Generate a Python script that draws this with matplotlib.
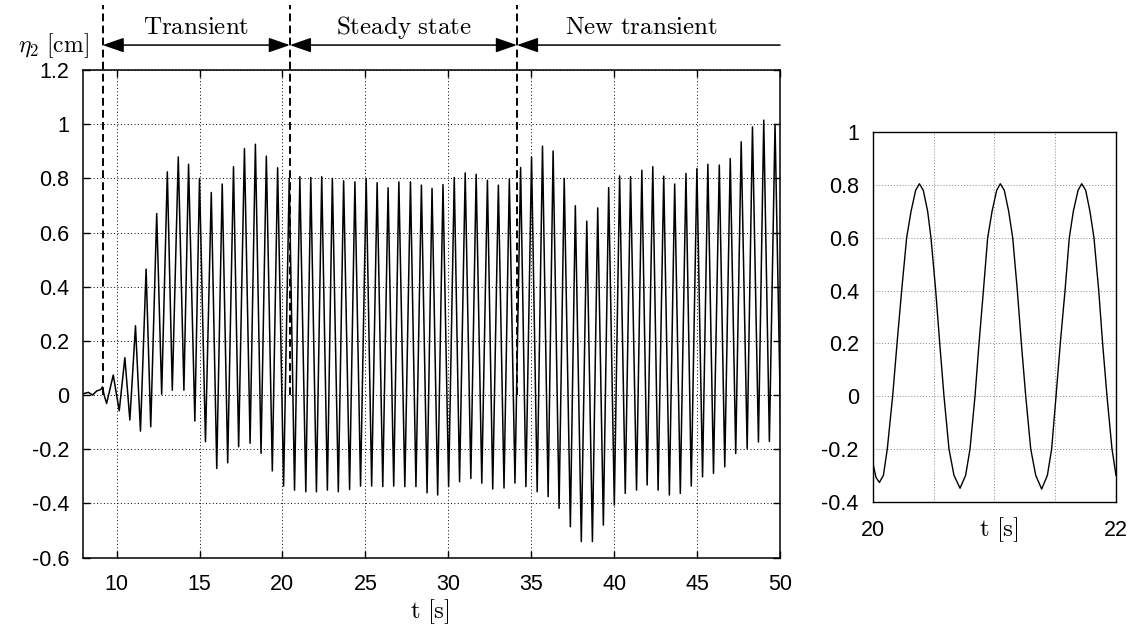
import matplotlib
matplotlib.use("Agg")
import matplotlib.pyplot as plt

plt.rcParams['mathtext.fontset'] = 'cm'
plt.rcParams['font.family'] = ['Liberation Sans', 'DejaVu Sans']

# ---------------- data ----------------
# main record: extremes of eta_2 [cm] versus t [s]
t_main = [8.00, 8.30, 8.55, 8.80, 9.04, 9.15, 9.25, 9.40, 9.80, 10.16, 10.50, 10.80,
          11.14, 11.44, 11.78, 12.06, 12.42, 12.72, 13.06, 13.36, 13.72, 14.06, 14.34,
          14.72, 15.00, 15.36, 15.71, 16.04, 16.37, 16.70, 17.05, 17.36, 17.71, 18.05,
          18.37, 18.71, 19.03, 19.39, 19.71, 20.07, 20.41, 20.73, 21.05, 21.41, 21.71,
          22.05, 22.37, 22.71, 23.01, 23.37, 23.69, 24.05, 24.37, 24.71, 25.05, 25.38,
          25.71, 26.05, 26.37, 26.71, 27.02, 27.38, 27.72, 28.05, 28.38, 28.72, 29.02,
          29.36, 29.68, 30.02, 30.36, 30.68, 31.02, 31.36, 31.68, 32.02, 32.36, 32.68,
          33.02, 33.36, 33.68, 34.02, 34.36, 34.68, 35.02, 35.36, 35.68, 36.02, 36.32,
          36.68, 36.99, 37.36, 37.66, 38.02, 38.35, 38.69, 39.01, 39.35, 39.67, 40.01,
          40.33, 40.67, 40.99, 41.35, 41.67, 41.99, 42.33, 42.65, 42.99, 43.33, 43.65,
          43.99, 44.33, 44.65, 44.99, 45.33, 45.65, 45.99, 46.34, 46.67, 47.00, 47.33,
          47.66, 48.02, 48.34, 48.70, 49.02, 49.36, 49.70, 50.05]
eta_main = [0.005, 0.010, 0.000, 0.015, 0.020, 0.030, 0.000, -0.031, 0.074, -0.058, 0.138, -0.092,
            0.256, -0.133, 0.465, -0.117, 0.670, 0.003, 0.824, 0.018, 0.879, 0.018, 0.852,
            -0.096, 0.800, -0.172, 0.748, -0.271, 0.779, -0.250, 0.843, -0.191, 0.910, -0.178,
            0.926, -0.215, 0.882, -0.280, 0.839, -0.336, 0.800, -0.351, 0.806, -0.357, 0.803,
            -0.357, 0.806, -0.351, 0.800, -0.357, 0.791, -0.349, 0.787, -0.336, 0.800, -0.336,
            0.784, -0.338, 0.765, -0.336, 0.787, -0.338, 0.787, -0.338, 0.775, -0.361, 0.763,
            -0.369, 0.777, -0.338, 0.803, -0.320, 0.820, -0.308, 0.815, -0.325, 0.793, -0.347,
            0.775, -0.343, 0.797, -0.325, 0.840, -0.338, 0.879, -0.357, 0.919, -0.375, 0.901,
            -0.418, 0.800, -0.486, 0.699, -0.541, 0.642, -0.541, 0.691, -0.480, 0.766, -0.406,
            0.809, -0.363, 0.806, -0.351, 0.830, -0.332, 0.843, -0.351, 0.808, -0.369, 0.779,
            -0.363, 0.818, -0.336, 0.836, -0.302, 0.852, -0.289, 0.849, -0.265, 0.873, -0.216,
            0.935, -0.197, 0.990, -0.173, 1.015, -0.171, 0.999, -0.150]

# detail 20 s - 22 s
t_zoom = [20.000, 20.027, 20.055, 20.088, 20.120, 20.164, 20.200, 20.238, 20.279, 20.315,
          20.353, 20.384, 20.416, 20.452, 20.479, 20.518, 20.551, 20.586, 20.627, 20.668,
          20.718, 20.764, 20.800, 20.841, 20.874, 20.910, 20.945, 20.981, 21.019, 21.049,
          21.082, 21.118, 21.151, 21.189, 21.222, 21.258, 21.299, 21.340, 21.389, 21.436,
          21.471, 21.507, 21.542, 21.581, 21.616, 21.649, 21.688, 21.718, 21.751, 21.786,
          21.819, 21.858, 21.890, 21.926, 21.967, 22.000]
eta_zoom = [-0.251, -0.308, -0.327, -0.300, -0.200, 0.000, 0.200, 0.400, 0.600, 0.700,
            0.780, 0.805, 0.780, 0.700, 0.600, 0.400, 0.200, 0.000, -0.200, -0.300,
            -0.349, -0.300, -0.200, 0.000, 0.200, 0.400, 0.600, 0.700, 0.780, 0.805,
            0.780, 0.700, 0.600, 0.400, 0.200, 0.000, -0.200, -0.300, -0.352, -0.300,
            -0.200, 0.000, 0.200, 0.400, 0.600, 0.700, 0.780, 0.805, 0.780, 0.700,
            0.600, 0.400, 0.200, 0.000, -0.200, -0.300]

phase_bounds = [9.16, 20.45, 34.14, 50.0]
phase_labels = ['Transient', 'Steady state', 'New transient']
phase_label_x = [14.8, 27.3, 41.66]

main_xticks = [10, 15, 20, 25, 30, 35, 40, 45, 50]
main_yticks = [-0.6, -0.4, -0.2, 0.0, 0.2, 0.4, 0.6, 0.8, 1.0, 1.2]
main_ylabels = ['-0.6', '-0.4', '-0.2', '0', '0.2', '0.4', '0.6', '0.8', '1', '1.2']
zoom_xticks = [20, 20.5, 21, 21.5, 22]
zoom_xlabels = ['20', '', '', '', '22']
zoom_yticks = [-0.4, -0.2, 0.0, 0.2, 0.4, 0.6, 0.8, 1.0]
zoom_ylabels = ['-0.4', '-0.2', '0', '0.2', '0.4', '0.6', '0.8', '1']

# ---------------- figure ----------------
W, H = 1138, 636
fig = plt.figure(figsize=(W / 100, H / 100), dpi=100)

def px_axes(x0, y0, x1, y1):
    return fig.add_axes([x0 / W, 1 - y1 / H, (x1 - x0) / W, (y1 - y0) / H])

ax = px_axes(83.4, 70, 780, 557.6)
ax.plot(t_main, eta_main, color='black', lw=1.1)
ax.set_xlim(8, 50)
ax.set_ylim(-0.6, 1.2)
ax.set_xticks(main_xticks)
ax.set_xticklabels([str(v) for v in main_xticks])
ax.set_yticks(main_yticks)
ax.set_yticklabels(main_ylabels)
ax.grid(True, color='black', lw=0.7, ls=(0, (1, 2.5)))
ax.tick_params(direction='in', top=True, right=True, length=5, width=1,
               labelsize=15.5, pad=10)
ax.tick_params(axis='x', pad=12)
for s in ax.spines.values():
    s.set_linewidth(1.1)

# phase boundaries (dashed) and arrows
y_arrow = 1.292
for b in phase_bounds[:3]:
    ax.plot([b, b], [0.0, 1.44], color='black', lw=1.4, ls=(0, (4, 2.2)),
            clip_on=False)
for i, lab in enumerate(phase_labels):
    a, b = phase_bounds[i], phase_bounds[i + 1]
    style = '<|-|>' if i < 2 else '<|-'
    ax.annotate('', xy=(b, y_arrow), xytext=(a, y_arrow), xycoords='data',
                annotation_clip=False,
                arrowprops=dict(arrowstyle=style + ',head_length=1.3,head_width=0.45',
                                color='black', lw=1.1, mutation_scale=10,
                                shrinkA=0, shrinkB=0))
    ax.text(phase_label_x[i], 1.333, r'$\mathrm{' + lab.replace(' ', r'\ ') + '}$',
            ha='center', va='baseline', fontsize=18, clip_on=False)

fig.text(89 / W, 1 - 46 / H, r'$\eta_2\ \mathrm{[cm]}$', ha='right', va='center',
         fontsize=17)
fig.text(430 / W, 1 - 612 / H, r'$\mathrm{t\ [s]}$', ha='center', va='center',
         fontsize=18)

# detail axes
ax2 = px_axes(872.7, 132.3, 1116, 501.7)
ax2.plot(t_zoom, eta_zoom, color='black', lw=1.0)
ax2.set_xlim(20, 22)
ax2.set_ylim(-0.4, 1.0)
ax2.set_xticks(zoom_xticks)
ax2.set_xticklabels(zoom_xlabels)
ax2.set_yticks(zoom_yticks)
ax2.set_yticklabels(zoom_ylabels)
ax2.grid(True, color='#888888', lw=0.7, ls=(0, (1, 2)))
ax2.tick_params(length=0, labelsize=15.5, pad=10)
ax2.tick_params(axis='x', pad=13)
for s in ax2.spines.values():
    s.set_linewidth(1.0)
fig.text(999 / W, 1 - 530 / H, r'$\mathrm{t\ [s]}$', ha='center', va='center',
         fontsize=18)

fig.savefig('out.png', dpi=100)
